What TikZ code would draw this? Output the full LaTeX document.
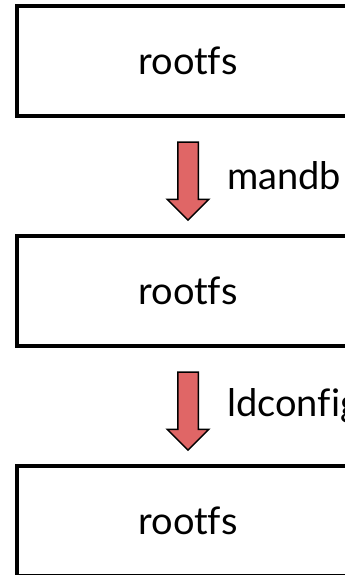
\documentclass[tikz,border=0pt]{standalone}
\usepackage{fontspec}
\setmainfont{Lato}[Ligatures=NoCommon]
\usetikzlibrary{positioning,shapes.arrows}
\definecolor{arrowred}{HTML}{E06666}

\begin{document}
\begin{tikzpicture}[x=1pt,y=1pt,line join=miter,font=\fontsize{38}{44}\selectfont]
    \tikzset{
        fsbox/.style={draw,line width=4pt,outer sep=0pt,inner sep=0pt,
            minimum width=342pt,minimum height=110pt},
        downarrow/.style={single arrow,draw,fill=arrowred,line width=1.5pt,
            shape border rotate=270,inner sep=9.5pt,outer sep=0pt,
            single arrow head extend=10.5pt,minimum height=78pt},
        steplabel/.style={anchor=west,inner sep=0pt}
    }
    \useasboundingbox (0,0) rectangle (345,-575);
    \clip (0,0) rectangle (345,-575);
    % the three boxes
    \node[fsbox] (fs1) at (188,-61) {rootfs};
    \node[fsbox,below=120pt of fs1] (fs2) {rootfs};
    \node[fsbox,below=120pt of fs2] (fs3) {rootfs};
    % the steps in between
    \path (fs1.south) -- (fs2.north) node[downarrow,midway] (step1) {};
    \path (fs2.south) -- (fs3.north) node[downarrow,midway] (step2) {};
    \node[steplabel] (lbl1) at ([xshift=39pt]step1.center) {mandb};
    \node[steplabel] (lbl2) at ([xshift=39pt]step2.center) {ldconfig};
\end{tikzpicture}
\end{document}
